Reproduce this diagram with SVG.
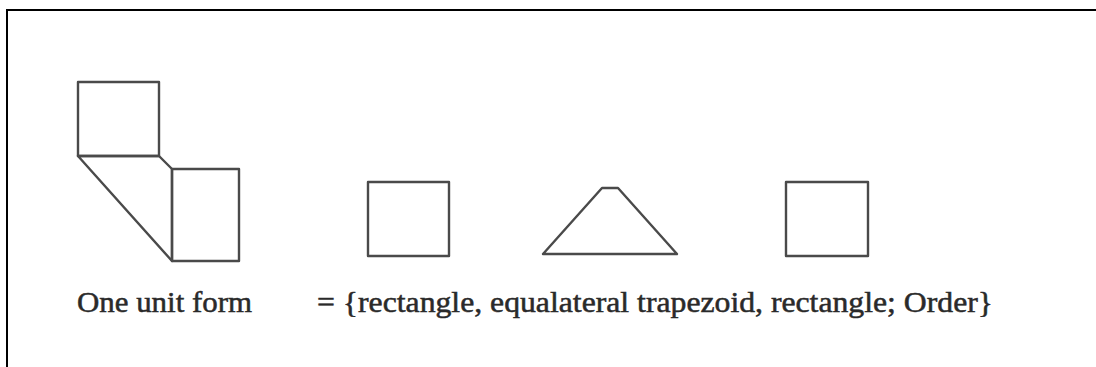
<svg xmlns="http://www.w3.org/2000/svg" width="1096" height="367" viewBox="0 0 1096 367">
<style>
.frame{fill:none;stroke:#000;stroke-width:2}
.shape{fill:none;stroke:#4a4a4a;stroke-width:2.4;stroke-linejoin:round}
.lbl{font-family:"Liberation Serif","Times New Roman",serif;font-size:29px;fill:#2a2a2a;stroke:#2a2a2a;stroke-width:0.5}
</style>
<rect width="1096" height="367" fill="#fff"/>
<g id="frame"><polyline class="frame" points="7,367 7,10 1096,10"/></g>
<g id="unit-form">
<rect class="shape" x="78" y="82" width="81" height="74"/>
<polygon class="shape" points="78,156 159,156 172,169 172,261"/>
<rect class="shape" x="172" y="169" width="67" height="92"/>
</g>
<g id="rect1"><rect class="shape" x="368" y="182" width="81" height="74"/></g>
<g id="trapezoid"><polygon class="shape" points="543,254 602,188 618,188 677,254"/></g>
<g id="rect2"><rect class="shape" x="786" y="182" width="82" height="74"/></g>
<g id="labels">
<text class="lbl" x="77" y="312" textLength="175" lengthAdjust="spacingAndGlyphs">One unit form</text>
<text class="lbl" x="317" y="312" textLength="676" lengthAdjust="spacingAndGlyphs">= {rectangle, equalateral trapezoid, rectangle; Order}</text>
</g>
</svg>
